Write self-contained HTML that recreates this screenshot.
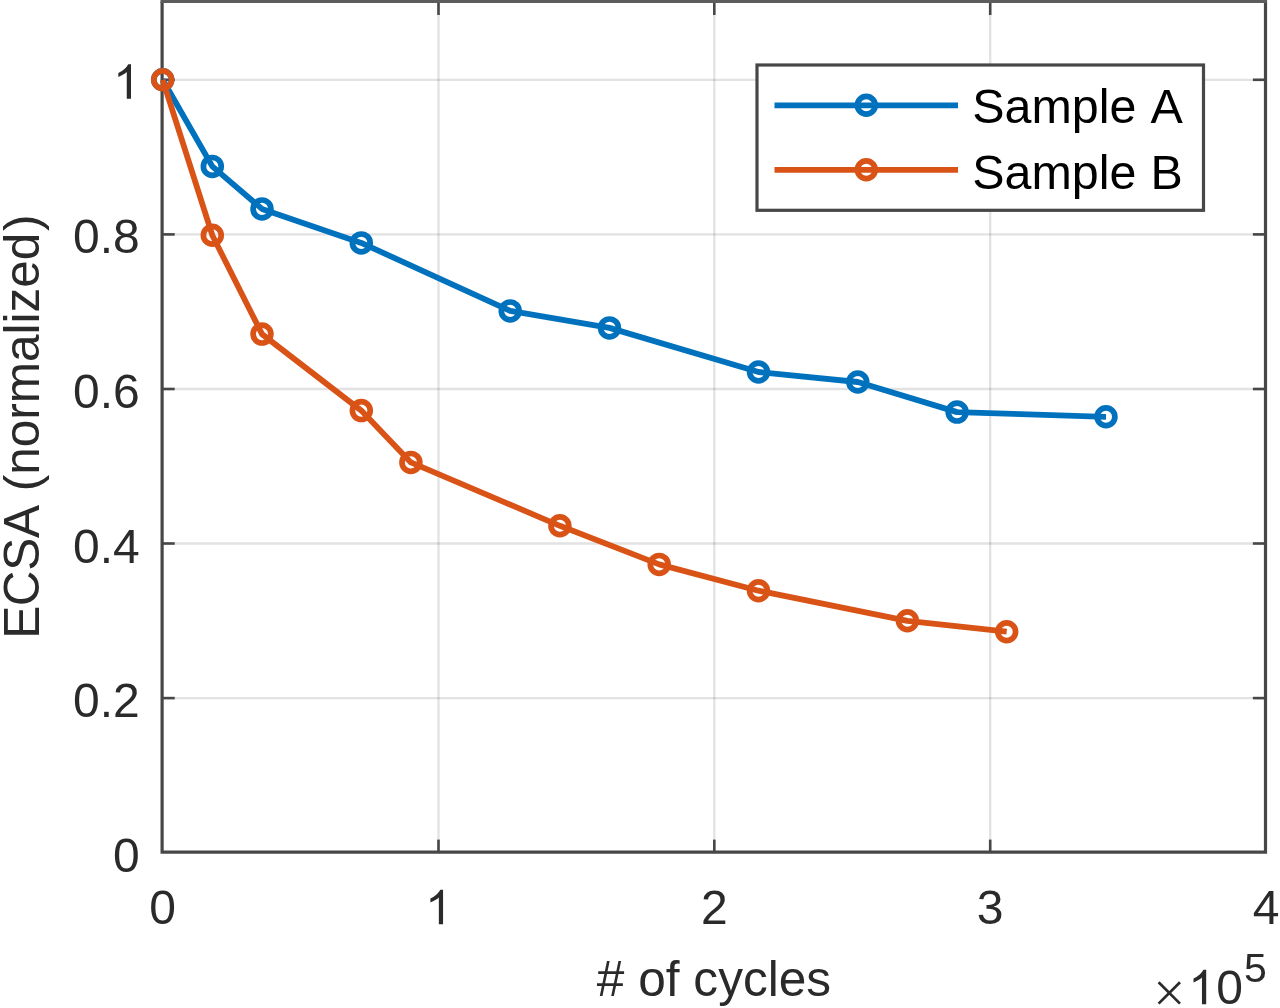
<!DOCTYPE html>
<html><head><meta charset="utf-8"><style>html,body{margin:0;padding:0;background:#fff}svg{display:block}text{font-family:"Liberation Sans",sans-serif}</style></head><body>
<svg width="1280" height="1008" viewBox="0 0 1280 1008">
<defs><filter id="b" x="0" y="0" width="1280" height="1008" filterUnits="userSpaceOnUse"><feGaussianBlur stdDeviation="0.7"/></filter></defs>
<rect width="1280" height="1008" fill="#fff"/>
<g filter="url(#b)">
<rect x="-10" y="-10" width="1300" height="1028" fill="#fff"/>
<line x1="438.5" y1="1.5" x2="438.5" y2="852.2" stroke="#262626" stroke-opacity="0.135" stroke-width="2.3"/>
<line x1="714.3" y1="1.5" x2="714.3" y2="852.2" stroke="#262626" stroke-opacity="0.135" stroke-width="2.3"/>
<line x1="990.2" y1="1.5" x2="990.2" y2="852.2" stroke="#262626" stroke-opacity="0.135" stroke-width="2.3"/>
<line x1="162.1" y1="698.1" x2="1265.5" y2="698.1" stroke="#262626" stroke-opacity="0.135" stroke-width="2.3"/>
<line x1="162.1" y1="543.5" x2="1265.5" y2="543.5" stroke="#262626" stroke-opacity="0.135" stroke-width="2.3"/>
<line x1="162.1" y1="389.0" x2="1265.5" y2="389.0" stroke="#262626" stroke-opacity="0.135" stroke-width="2.3"/>
<line x1="162.1" y1="234.4" x2="1265.5" y2="234.4" stroke="#262626" stroke-opacity="0.135" stroke-width="2.3"/>
<line x1="162.1" y1="79.8" x2="1265.5" y2="79.8" stroke="#262626" stroke-opacity="0.135" stroke-width="2.3"/>
<line x1="438.5" y1="852.2" x2="438.5" y2="839.6" stroke="#474747" stroke-width="2.6"/>
<line x1="438.5" y1="1.5" x2="438.5" y2="15.0" stroke="#474747" stroke-width="2.6"/>
<line x1="714.3" y1="852.2" x2="714.3" y2="839.6" stroke="#474747" stroke-width="2.6"/>
<line x1="714.3" y1="1.5" x2="714.3" y2="15.0" stroke="#474747" stroke-width="2.6"/>
<line x1="990.2" y1="852.2" x2="990.2" y2="839.6" stroke="#474747" stroke-width="2.6"/>
<line x1="990.2" y1="1.5" x2="990.2" y2="15.0" stroke="#474747" stroke-width="2.6"/>
<line x1="162.1" y1="698.1" x2="174.7" y2="698.1" stroke="#474747" stroke-width="2.6"/>
<line x1="1265.5" y1="698.1" x2="1252.9" y2="698.1" stroke="#474747" stroke-width="2.6"/>
<line x1="162.1" y1="543.5" x2="174.7" y2="543.5" stroke="#474747" stroke-width="2.6"/>
<line x1="1265.5" y1="543.5" x2="1252.9" y2="543.5" stroke="#474747" stroke-width="2.6"/>
<line x1="162.1" y1="389.0" x2="174.7" y2="389.0" stroke="#474747" stroke-width="2.6"/>
<line x1="1265.5" y1="389.0" x2="1252.9" y2="389.0" stroke="#474747" stroke-width="2.6"/>
<line x1="162.1" y1="234.4" x2="174.7" y2="234.4" stroke="#474747" stroke-width="2.6"/>
<line x1="1265.5" y1="234.4" x2="1252.9" y2="234.4" stroke="#474747" stroke-width="2.6"/>
<line x1="162.1" y1="79.8" x2="174.7" y2="79.8" stroke="#474747" stroke-width="2.6"/>
<line x1="1265.5" y1="79.8" x2="1252.9" y2="79.8" stroke="#474747" stroke-width="2.6"/>
<path d="M162.1 1.5V852.2H1265.5V1.5" fill="none" stroke="#474747" stroke-width="3.2"/>
<line x1="160.5" y1="1.5" x2="1267.1" y2="1.5" stroke="#5c5c5c" stroke-width="3.2"/>
<polyline points="162.7,79.8 212.3,166.4 262.0,208.9 361.3,242.9 510.2,310.9 609.5,327.9 758.5,372.0 857.8,382.0 957.1,412.1 1106.0,416.8" fill="none" stroke="#0072BD" stroke-width="5.8" stroke-linejoin="round"/>
<circle cx="162.7" cy="79.8" r="8.9" fill="none" stroke="#0072BD" stroke-width="5.7"/>
<circle cx="212.3" cy="166.4" r="8.9" fill="none" stroke="#0072BD" stroke-width="5.7"/>
<circle cx="262.0" cy="208.9" r="8.9" fill="none" stroke="#0072BD" stroke-width="5.7"/>
<circle cx="361.3" cy="242.9" r="8.9" fill="none" stroke="#0072BD" stroke-width="5.7"/>
<circle cx="510.2" cy="310.9" r="8.9" fill="none" stroke="#0072BD" stroke-width="5.7"/>
<circle cx="609.5" cy="327.9" r="8.9" fill="none" stroke="#0072BD" stroke-width="5.7"/>
<circle cx="758.5" cy="372.0" r="8.9" fill="none" stroke="#0072BD" stroke-width="5.7"/>
<circle cx="857.8" cy="382.0" r="8.9" fill="none" stroke="#0072BD" stroke-width="5.7"/>
<circle cx="957.1" cy="412.1" r="8.9" fill="none" stroke="#0072BD" stroke-width="5.7"/>
<circle cx="1106.0" cy="416.8" r="8.9" fill="none" stroke="#0072BD" stroke-width="5.7"/>
<polyline points="162.7,79.8 212.3,235.2 262.0,334.1 361.3,410.6 410.9,462.4 559.9,525.8 659.2,564.4 758.5,590.7 907.4,620.8 1006.7,631.7" fill="none" stroke="#D95319" stroke-width="5.8" stroke-linejoin="round"/>
<circle cx="162.7" cy="79.8" r="8.9" fill="none" stroke="#D95319" stroke-width="5.7"/>
<circle cx="212.3" cy="235.2" r="8.9" fill="none" stroke="#D95319" stroke-width="5.7"/>
<circle cx="262.0" cy="334.1" r="8.9" fill="none" stroke="#D95319" stroke-width="5.7"/>
<circle cx="361.3" cy="410.6" r="8.9" fill="none" stroke="#D95319" stroke-width="5.7"/>
<circle cx="410.9" cy="462.4" r="8.9" fill="none" stroke="#D95319" stroke-width="5.7"/>
<circle cx="559.9" cy="525.8" r="8.9" fill="none" stroke="#D95319" stroke-width="5.7"/>
<circle cx="659.2" cy="564.4" r="8.9" fill="none" stroke="#D95319" stroke-width="5.7"/>
<circle cx="758.5" cy="590.7" r="8.9" fill="none" stroke="#D95319" stroke-width="5.7"/>
<circle cx="907.4" cy="620.8" r="8.9" fill="none" stroke="#D95319" stroke-width="5.7"/>
<circle cx="1006.7" cy="631.7" r="8.9" fill="none" stroke="#D95319" stroke-width="5.7"/>
<text x="162.7" y="924.3" font-size="48" fill="#2a2a2a" text-anchor="middle">0</text>
<path transform="translate(425.18,924.3) scale(0.02344,-0.02344)" d="M763 0H583V1147Q518 1085 412.5 1023Q307 961 223 930V1104Q374 1175 487 1276Q600 1377 647 1472H763Z" fill="#2a2a2a"/>
<text x="714.3" y="924.3" font-size="48" fill="#2a2a2a" text-anchor="middle">2</text>
<text x="990.2" y="924.3" font-size="48" fill="#2a2a2a" text-anchor="middle">3</text>
<text x="1266.0" y="924.3" font-size="48" fill="#2a2a2a" text-anchor="middle">4</text>
<text x="139.8" y="871.7" font-size="48" fill="#2a2a2a" text-anchor="end">0</text>
<text x="139.8" y="717.1" font-size="48" fill="#2a2a2a" text-anchor="end">0.2</text>
<text x="139.8" y="562.5" font-size="48" fill="#2a2a2a" text-anchor="end">0.4</text>
<text x="139.8" y="408.0" font-size="48" fill="#2a2a2a" text-anchor="end">0.6</text>
<text x="139.8" y="253.4" font-size="48" fill="#2a2a2a" text-anchor="end">0.8</text>
<path transform="translate(113.10,98.8) scale(0.02344,-0.02344)" d="M763 0H583V1147Q518 1085 412.5 1023Q307 961 223 930V1104Q374 1175 487 1276Q600 1377 647 1472H763Z" fill="#2a2a2a"/>
<text x="714" y="996" font-size="49.6" fill="#2a2a2a" text-anchor="middle"># of cycles</text>
<text transform="translate(39.3,638.8) rotate(-90)" font-size="49.5" letter-spacing="-0.35" fill="#2a2a2a">ECSA</text>
<text transform="translate(39.3,491.3) rotate(-90)" font-size="49.5" fill="#2a2a2a">(normalized<tspan dx="1.6">)</tspan></text>
<path d="M1158.6 982.2L1180 1003.6M1180 982.2L1158.6 1003.6" stroke="#2a2a2a" stroke-width="2.7" fill="none"/>
<path transform="translate(1188.30,1004.3) scale(0.02344,-0.02344)" d="M763 0H583V1147Q518 1085 412.5 1023Q307 961 223 930V1104Q374 1175 487 1276Q600 1377 647 1472H763Z" fill="#2a2a2a"/>
<text x="1216.3" y="1004.3" font-size="48" fill="#2a2a2a">0</text>
<text x="1244" y="981.5" font-size="41" fill="#2a2a2a">5</text>
<rect x="757" y="65" width="446.5" height="145.3" fill="#fff" stroke="#474747" stroke-width="3.2"/>
<line x1="774.5" y1="105.3" x2="958" y2="105.3" stroke="#0072BD" stroke-width="5.8"/>
<circle cx="866.3" cy="105.3" r="8.9" fill="none" stroke="#0072BD" stroke-width="5.7"/>
<text x="972.3" y="123.0" font-size="48.4" fill="#000">Sample</text>
<text x="1166.6" y="123.0" font-size="48.4" fill="#000" text-anchor="middle">A</text>
<line x1="774.5" y1="169.8" x2="958" y2="169.8" stroke="#D95319" stroke-width="5.8"/>
<circle cx="866.3" cy="169.8" r="8.9" fill="none" stroke="#D95319" stroke-width="5.7"/>
<text x="972.3" y="188.7" font-size="48.4" fill="#000">Sample</text>
<text x="1166.6" y="188.7" font-size="48.4" fill="#000" text-anchor="middle">B</text>
</g>
</svg></body></html>
